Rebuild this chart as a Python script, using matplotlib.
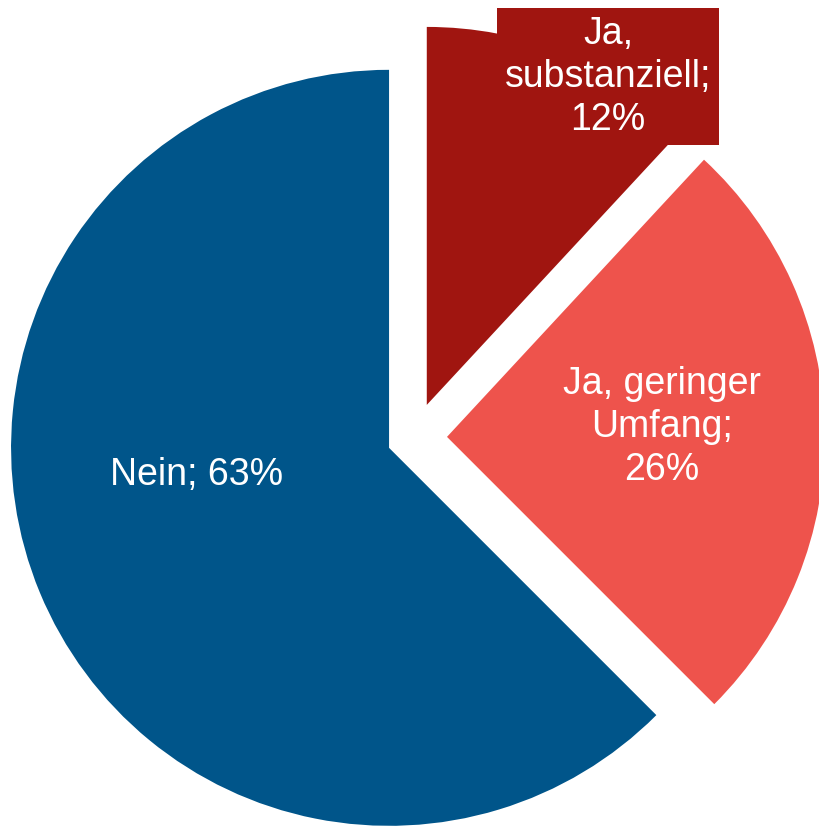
import matplotlib.pyplot as plt

# answer shares, clockwise from 12 o'clock
labels = ['Ja,\nsubstanziell;\n12%', 'Ja, geringer\nUmfang;\n26%', 'Nein; 63%']
shares = [11.9, 25.6, 62.5]
colors = ['#A01510', '#EE534C', '#00558A']
explode = [35, 33, 27]   # in px, since 1 data unit = 1 px here

plt.rcParams['font.family'] = ['Liberation Sans', 'DejaVu Sans']

fig = plt.figure(figsize=(8.2, 8.28), dpi=100)
ax = fig.add_axes([0, 0, 1, 1])

wedges, _ = ax.pie(shares, colors=colors, explode=explode, startangle=90,
                   counterclock=False, radius=378, center=(414, 389.5),
                   wedgeprops=dict(linewidth=0))

ax.set_xlim(0, 820)
ax.set_ylim(0, 828)
ax.set_aspect('equal')
ax.axis('off')

# data labels (baseline = last line)
ax.text(608, 698, labels[0], ha='center', va='baseline', color='white',
        fontsize=27, linespacing=1.25,
        bbox=dict(boxstyle='square,pad=0.2', facecolor=colors[0], edgecolor='none'))
ax.text(662, 348, labels[1], ha='center', va='baseline', color='white',
        fontsize=27, linespacing=1.25)
ax.text(197, 343, labels[2], ha='center', va='baseline', color='white',
        fontsize=27)

fig.savefig('out.png', dpi=100)
